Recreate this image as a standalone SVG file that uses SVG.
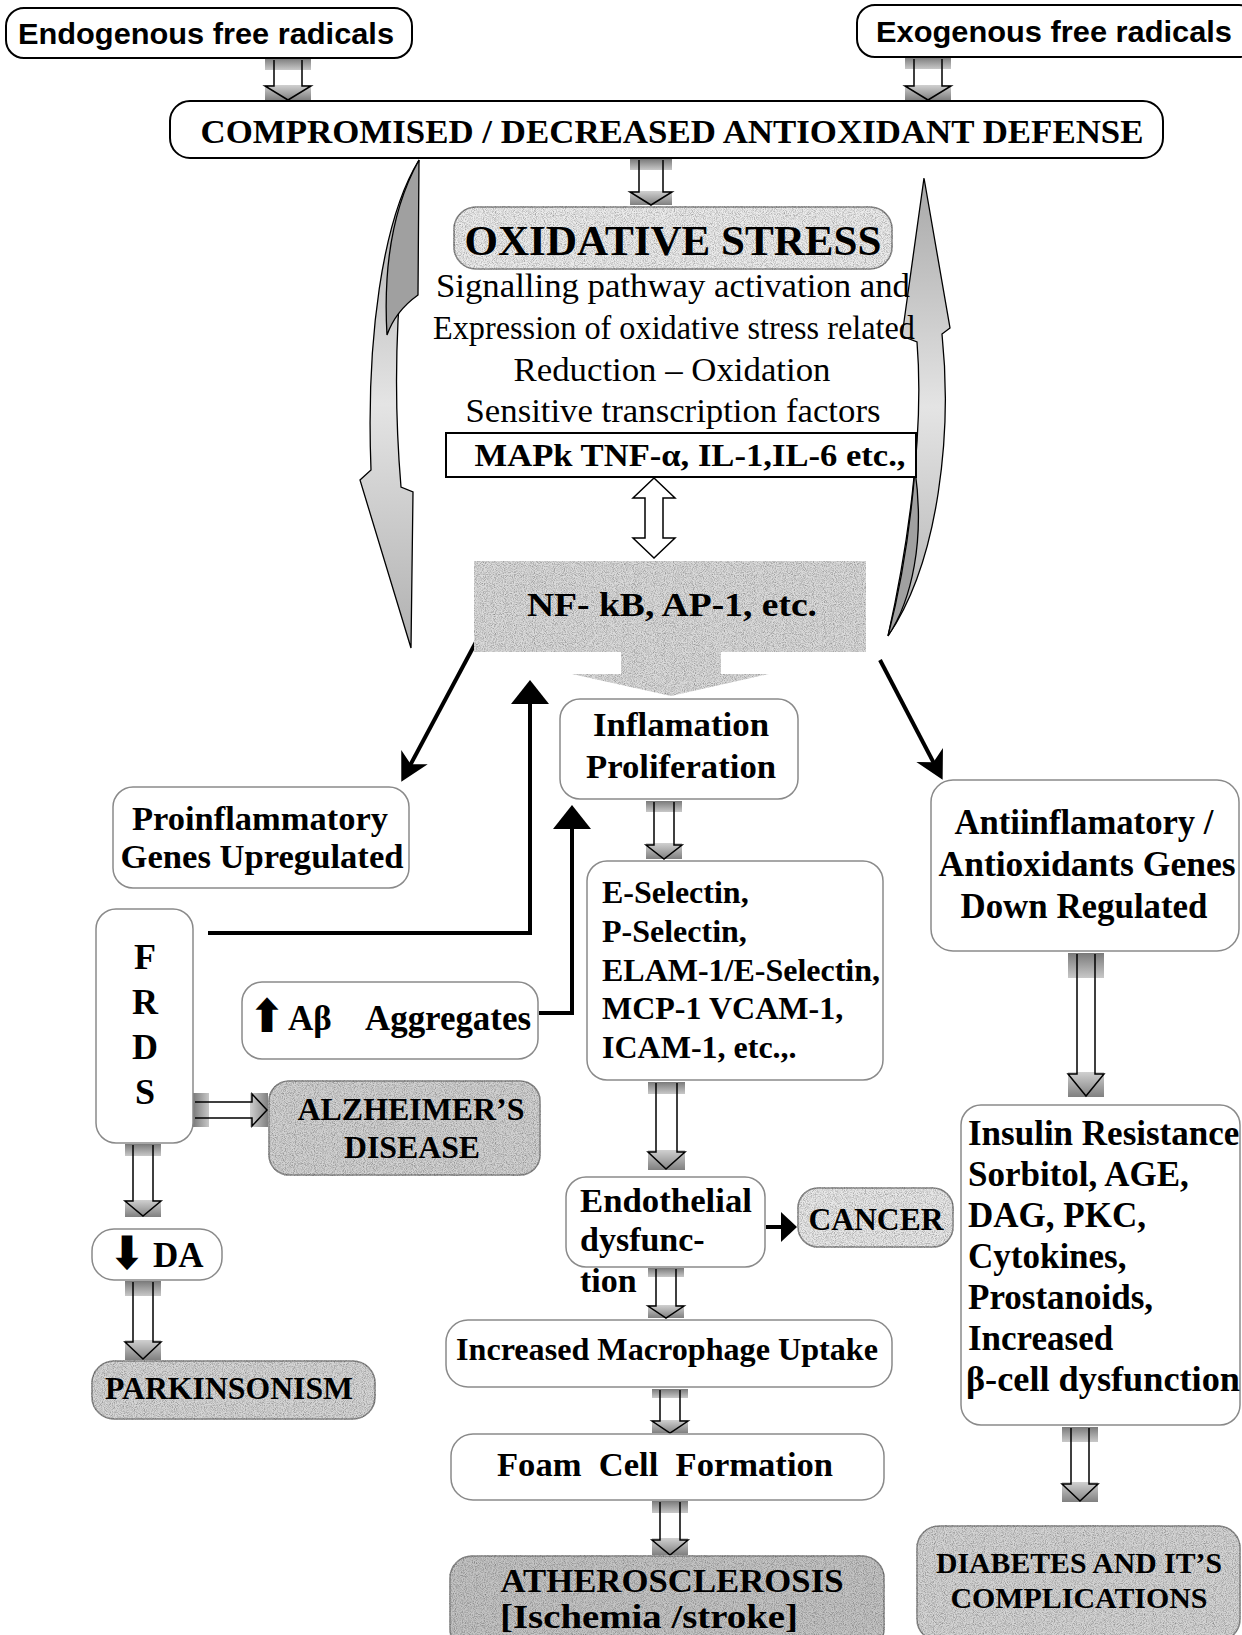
<svg xmlns="http://www.w3.org/2000/svg" width="1242" height="1635" viewBox="0 0 1242 1635">
<style>
.sb{font-family:"Liberation Serif","Times New Roman",serif;font-weight:bold;fill:#000}
.sr{font-family:"Liberation Serif","Times New Roman",serif;fill:#000}
.ss{font-family:"Liberation Sans",Arial,sans-serif;font-weight:bold;fill:#000}
.sym{font-family:"DejaVu Sans",sans-serif;font-weight:bold;fill:#000}
.bk{fill:#fff;stroke:#000;stroke-width:2}
.bx{fill:#fff;stroke:#8a8a8a;stroke-width:1.5}
.gy{stroke:#8a8a8a;stroke-width:1.5;filter:url(#stip)}
.ba{fill:none;stroke:#000;stroke-width:1.5;stroke-linejoin:miter}
.ln{fill:none;stroke:#000;stroke-width:4}
.mid{text-anchor:middle}
</style>
<defs>
<filter id="stip">
<feTurbulence type="fractalNoise" baseFrequency="1.1" numOctaves="1" seed="4" result="n"/>
<feColorMatrix in="n" type="matrix" values="0 0 0 0 0  0 0 0 0 0  0 0 0 0 0  1.4 0 0 0 -0.55" result="d"/>
<feComposite in="d" in2="SourceGraphic" operator="in" result="dm"/>
<feMerge><feMergeNode in="SourceGraphic"/><feMergeNode in="dm"/></feMerge>
</filter>
<linearGradient id="gTop" x1="0" y1="0" x2="0" y2="1"><stop offset="0" stop-color="#7a7a7a"/><stop offset="1" stop-color="#c8c8c8"/></linearGradient>
<linearGradient id="gBot" x1="0" y1="0" x2="0" y2="1"><stop offset="0" stop-color="#d0d0d0"/><stop offset="1" stop-color="#808080"/></linearGradient>
<linearGradient id="gLeft" x1="0" y1="0" x2="1" y2="0"><stop offset="0" stop-color="#7a7a7a"/><stop offset="1" stop-color="#c8c8c8"/></linearGradient>
<linearGradient id="gRight" x1="0" y1="0" x2="1" y2="0"><stop offset="0" stop-color="#d0d0d0"/><stop offset="1" stop-color="#808080"/></linearGradient>
<linearGradient id="gCurve" x1="0" y1="0" x2="0" y2="1"><stop offset="0" stop-color="#a8a8a8"/><stop offset="0.5" stop-color="#e4e4e4"/><stop offset="1" stop-color="#b0b0b0"/></linearGradient>
<marker id="mTri" markerUnits="userSpaceOnUse" viewBox="-20 -20 40 40" markerWidth="40" markerHeight="40" refX="0" refY="0" orient="auto" overflow="visible">
<path d="M12,0 L-12,-19 L-12,19 Z" fill="#000"/>
</marker>
<marker id="mSt" markerUnits="userSpaceOnUse" viewBox="-20 -20 40 40" markerWidth="40" markerHeight="40" refX="0" refY="0" orient="auto" overflow="visible">
<path d="M10,0 L-18,-15 L-10,0 L-18,15 Z" fill="#000"/>
</marker>
</defs>
<rect width="1242" height="1635" fill="#fff"/>

<g id="connectors">
  <g id="curve-left">
    <path d="M419,160 C382,220 366,340 371,470 L360,480 L411,648 L413,492 L401,487 C392,380 396,260 419,160 Z" fill="url(#gCurve)" stroke="#000" stroke-width="1.3"/>
    <path d="M419,160 L418,295 C404,305 393,318 387,335 C383,265 394,205 419,160 Z" fill="#a0a0a0" stroke="#000" stroke-width="1.3"/>
  </g>
  <g id="curve-right">
    <path d="M924,178 L950,328 L942,334 C952,430 940,560 888,636 C905,560 925,440 917,342 L902,336 Z" fill="url(#gCurve)" stroke="#000" stroke-width="1.3"/>
    <path d="M888,636 C900,590 910,530 915,470 C925,540 912,600 888,636 Z" fill="#a0a0a0" stroke="#000" stroke-width="1.3"/>
  </g>

  <g id="arr-endo">
    <rect x="265" y="58" width="46" height="12" fill="url(#gTop)"/>
    <rect x="265" y="85" width="46" height="15" fill="url(#gBot)"/>
    <path class="ba" d="M274,60 V86 H265 L288,100 L311,86 H302 V60"/>
  </g>
  <g id="arr-exo">
    <rect x="905" y="57" width="46" height="12" fill="url(#gTop)"/>
    <rect x="905" y="85" width="46" height="15" fill="url(#gBot)"/>
    <path class="ba" d="M914,59 V86 H905 L928,100 L951,86 H942 V59"/>
  </g>
  <g id="arr-comp">
    <rect x="630" y="159" width="42" height="11" fill="url(#gTop)"/>
    <rect x="630" y="191" width="42" height="14" fill="url(#gBot)"/>
    <path class="ba" d="M639,160 V192 H630 L651,205 L672,192 H663 V160"/>
  </g>
  <path id="arr-dbl" d="M654,478 L675,498 L663,498 L663,538 L675,538 L654,558 L633,538 L645,538 L645,498 L633,498 Z" fill="#fff" stroke="#000" stroke-width="1.5"/>
  <path id="arr-nf" d="M621,651 H721 V674 H769 L671,696 L572,674 H621 Z" fill="#dadada" style="filter:url(#stip)"/>

  <path class="ln" d="M476,642 L406,773" marker-end="url(#mSt)"/>
  <path class="ln" d="M880,660 L938,771" marker-end="url(#mSt)"/>
  <path class="ln" d="M208,933 H530 V692" marker-end="url(#mTri)"/>
  <path class="ln" d="M539,1013 H572 V817" marker-end="url(#mTri)"/>
  <g id="arr-cancer">
    <path d="M766,1227 H784" stroke="#000" stroke-width="4"/>
    <path d="M781,1212 L797,1227 L781,1242 Z" fill="#000"/>
  </g>

  <g id="arr-infl-esel">
    <rect x="646" y="801" width="36" height="11" fill="url(#gTop)"/>
    <rect x="646" y="843" width="36" height="16" fill="url(#gBot)"/>
    <path class="ba" d="M654,802 V845 H646 L664,859 L682,845 H674 V802"/>
  </g>
  <g id="arr-esel-endo">
    <rect x="648" y="1082" width="37" height="12" fill="url(#gTop)"/>
    <rect x="648" y="1150" width="37" height="20" fill="url(#gBot)"/>
    <path class="ba" d="M656,1083 V1152 H648 L666,1169 L685,1152 H677 V1083"/>
  </g>
  <g id="arr-endo-macro">
    <rect x="648" y="1268" width="36" height="9" fill="url(#gTop)"/>
    <rect x="648" y="1305" width="36" height="13" fill="url(#gBot)"/>
    <path class="ba" d="M656,1269 V1306 H648 L666,1318 L684,1306 H676 V1269"/>
  </g>
  <g id="arr-macro-foam">
    <rect x="652" y="1389" width="36" height="9" fill="url(#gTop)"/>
    <rect x="652" y="1420" width="36" height="13" fill="url(#gBot)"/>
    <path class="ba" d="M660,1390 V1421 H652 L670,1433 L688,1421 H680 V1390"/>
  </g>
  <g id="arr-foam-ath">
    <rect x="652" y="1501" width="36" height="12" fill="url(#gTop)"/>
    <rect x="652" y="1538" width="36" height="17" fill="url(#gBot)"/>
    <path class="ba" d="M660,1502 V1540 H652 L670,1555 L688,1540 H680 V1502"/>
  </g>
  <g id="arr-frds-alz">
    <rect x="193" y="1093" width="16" height="34" fill="url(#gLeft)"/>
    <rect x="250" y="1093" width="18" height="34" fill="url(#gRight)"/>
    <path class="ba" d="M195,1102 H252 V1094 L267,1110 L252,1126 V1118 H195"/>
  </g>
  <g id="arr-frds-da">
    <rect x="125" y="1144" width="36" height="12" fill="url(#gTop)"/>
    <rect x="125" y="1200" width="36" height="17" fill="url(#gBot)"/>
    <path class="ba" d="M133,1145 V1201 H125 L143,1216 L161,1201 H153 V1145"/>
  </g>
  <g id="arr-da-park">
    <rect x="125" y="1281" width="36" height="15" fill="url(#gTop)"/>
    <rect x="125" y="1340" width="36" height="20" fill="url(#gBot)"/>
    <path class="ba" d="M133,1282 V1342 H125 L143,1359 L161,1342 H153 V1282"/>
  </g>
  <g id="arr-anti-ins">
    <rect x="1068" y="953" width="36" height="25" fill="url(#gTop)"/>
    <rect x="1068" y="1072" width="36" height="25" fill="url(#gBot)"/>
    <path class="ba" d="M1077,954 V1074 H1068 L1086,1096 L1104,1074 H1095 V954"/>
  </g>
  <g id="arr-ins-diab">
    <rect x="1062" y="1427" width="36" height="15" fill="url(#gTop)"/>
    <rect x="1062" y="1482" width="36" height="20" fill="url(#gBot)"/>
    <path class="ba" d="M1071,1428 V1484 H1062 L1080,1501 L1098,1484 H1089 V1428"/>
  </g>
</g>

<g id="n-endo">
  <rect class="bk" x="6" y="8" width="406" height="50" rx="18"/>
  <text class="ss mid" x="206" y="44" font-size="30" textLength="376" lengthAdjust="spacingAndGlyphs">Endogenous free radicals</text>
</g>
<g id="n-exo">
  <rect class="bk" x="857" y="5" width="400" height="52" rx="18"/>
  <text class="ss" x="876" y="42" font-size="30" textLength="356" lengthAdjust="spacingAndGlyphs">Exogenous free radicals</text>
</g>
<g id="n-comp">
  <rect class="bk" x="170" y="101" width="993" height="57" rx="20"/>
  <text class="sb mid" x="672" y="143" font-size="34" textLength="943" lengthAdjust="spacingAndGlyphs">COMPROMISED / DECREASED ANTIOXIDANT DEFENSE</text>
</g>
<g id="n-ox">
  <rect class="gy" x="454" y="207" width="438" height="62" rx="22" fill="#ececec"/>
  <text class="sb mid" x="673" y="255" font-size="43" textLength="417" lengthAdjust="spacingAndGlyphs">OXIDATIVE STRESS</text>
</g>
<g id="n-ox-desc">
  <text class="sr mid" x="673" y="297" font-size="33" textLength="474" lengthAdjust="spacingAndGlyphs">Signalling pathway activation and</text>
  <text class="sr mid" x="674" y="339" font-size="33" textLength="482" lengthAdjust="spacingAndGlyphs">Expression of oxidative stress related</text>
  <text class="sr mid" x="672" y="381" font-size="33" textLength="317" lengthAdjust="spacingAndGlyphs">Reduction – Oxidation</text>
  <text class="sr mid" x="673" y="422" font-size="33" textLength="415" lengthAdjust="spacingAndGlyphs">Sensitive transcription factors</text>
</g>
<g id="n-mapk">
  <rect class="bk" x="446" y="433" width="470" height="44"/>
  <text class="sb mid" x="690" y="466" font-size="31" textLength="431" lengthAdjust="spacingAndGlyphs">MAPk TNF-α, IL-1,IL-6 etc.,</text>
</g>
<g id="n-nfkb">
  <rect x="474" y="561" width="392" height="91" fill="#dadada" style="filter:url(#stip)"/>
  <text class="sb mid" x="672" y="616" font-size="34" textLength="290" lengthAdjust="spacingAndGlyphs">NF- kB, AP-1, etc.</text>
</g>
<g id="n-infl">
  <rect class="bx" x="560" y="699" width="238" height="100" rx="20" fill="#f8f8f8"/>
  <text class="sb mid" x="681" y="736" font-size="33" textLength="176" lengthAdjust="spacingAndGlyphs">Inflamation</text>
  <text class="sb mid" x="681" y="778" font-size="33" textLength="190" lengthAdjust="spacingAndGlyphs">Proliferation</text>
</g>
<g id="n-pro">
  <rect class="bx" x="113" y="787" width="296" height="101" rx="20"/>
  <text class="sb mid" x="260" y="830" font-size="34" textLength="256" lengthAdjust="spacingAndGlyphs">Proinflammatory</text>
  <text class="sb mid" x="262" y="868" font-size="34" textLength="283" lengthAdjust="spacingAndGlyphs">Genes Upregulated</text>
</g>
<g id="n-anti">
  <rect class="bx" x="931" y="780" width="308" height="171" rx="22"/>
  <text class="sb mid" x="1084" y="834" font-size="35" textLength="259" lengthAdjust="spacingAndGlyphs">Antiinflamatory /</text>
  <text class="sb mid" x="1087" y="876" font-size="35" textLength="297" lengthAdjust="spacingAndGlyphs">Antioxidants Genes</text>
  <text class="sb mid" x="1084" y="918" font-size="35" textLength="247" lengthAdjust="spacingAndGlyphs">Down Regulated</text>
</g>
<g id="n-frds">
  <rect class="bx" x="96" y="909" width="97" height="234" rx="20"/>
  <text class="sb mid" x="145" y="969" font-size="36">F</text>
  <text class="sb mid" x="145" y="1014" font-size="36">R</text>
  <text class="sb mid" x="145" y="1059" font-size="36">D</text>
  <text class="sb mid" x="145" y="1104" font-size="36">S</text>
</g>
<g id="n-ab">
  <rect class="bx" x="242" y="982" width="296" height="77" rx="20"/>
  <text class="sym" x="249" y="1032" font-size="46" textLength="36" lengthAdjust="spacingAndGlyphs">⬆</text>
  <text class="sb" x="288" y="1030" font-size="35">Aβ</text>
  <text class="sb" x="365" y="1030" font-size="35" textLength="166" lengthAdjust="spacingAndGlyphs">Aggregates</text>
</g>
<g id="n-alz">
  <rect class="gy" x="269" y="1081" width="271" height="94" rx="20" fill="#d2d2d2"/>
  <text class="sb mid" x="411" y="1120" font-size="32" textLength="227" lengthAdjust="spacingAndGlyphs">ALZHEIMER’S</text>
  <text class="sb mid" x="412" y="1158" font-size="32" textLength="136" lengthAdjust="spacingAndGlyphs">DISEASE</text>
</g>
<g id="n-da">
  <rect class="bx" x="92" y="1229" width="130" height="51" rx="22"/>
  <text class="sym" x="109" y="1269" font-size="46" textLength="36" lengthAdjust="spacingAndGlyphs">⬇</text>
  <text class="sb" x="153" y="1267" font-size="35">DA</text>
</g>
<g id="n-park">
  <rect class="gy" x="92" y="1361" width="283" height="58" rx="22" fill="#d6d6d6"/>
  <text class="sb mid" x="229" y="1399" font-size="31" textLength="248" lengthAdjust="spacingAndGlyphs">PARKINSONISM</text>
</g>
<g id="n-esel">
  <rect class="bx" x="587" y="861" width="296" height="219" rx="20"/>
  <text class="sb" x="602" y="903" font-size="32">E-Selectin,</text>
  <text class="sb" x="602" y="942" font-size="32">P-Selectin,</text>
  <text class="sb" x="602" y="981" font-size="32" textLength="278" lengthAdjust="spacingAndGlyphs">ELAM-1/E-Selectin,</text>
  <text class="sb" x="602" y="1019" font-size="32">MCP-1 VCAM-1,</text>
  <text class="sb" x="602" y="1058" font-size="32">ICAM-1, etc.,.</text>
</g>
<g id="n-endoth">
  <rect class="bx" x="566" y="1177" width="199" height="90" rx="20"/>
  <text class="sb" x="580" y="1212" font-size="34" textLength="172" lengthAdjust="spacingAndGlyphs">Endothelial</text>
  <text class="sb" x="580" y="1251" font-size="34">dysfunc-</text>
  <text class="sb" x="580" y="1292" font-size="34">tion</text>
</g>
<g id="n-cancer">
  <rect class="gy" x="798" y="1188" width="155" height="59" rx="20" fill="#e8e8e8"/>
  <text class="sb mid" x="876" y="1230" font-size="32" textLength="135" lengthAdjust="spacingAndGlyphs">CANCER</text>
</g>
<g id="n-macro">
  <rect class="bx" x="446" y="1320" width="446" height="67" rx="22"/>
  <text class="sb mid" x="667" y="1360" font-size="32" textLength="422" lengthAdjust="spacingAndGlyphs">Increased Macrophage Uptake</text>
</g>
<g id="n-foam">
  <rect class="bx" x="451" y="1434" width="433" height="66" rx="22"/>
  <text class="sb mid" x="665" y="1476" font-size="34" textLength="336" lengthAdjust="spacingAndGlyphs" xml:space="preserve">Foam  Cell  Formation</text>
</g>
<g id="n-ath">
  <rect class="gy" x="450" y="1556" width="434" height="95" rx="22" fill="#c4c4c4"/>
  <text class="sb mid" x="672" y="1592" font-size="34" textLength="343" lengthAdjust="spacingAndGlyphs">ATHEROSCLEROSIS</text>
  <text class="sb mid" x="649" y="1628" font-size="33" textLength="298" lengthAdjust="spacingAndGlyphs">[Ischemia /stroke]</text>
</g>
<g id="n-ins">
  <rect class="bx" x="961" y="1105" width="279" height="320" rx="20"/>
  <text class="sb" x="968" y="1145" font-size="35">Insulin Resistance</text>
  <text class="sb" x="968" y="1186" font-size="35">Sorbitol, AGE,</text>
  <text class="sb" x="968" y="1227" font-size="35">DAG, PKC,</text>
  <text class="sb" x="968" y="1268" font-size="35">Cytokines,</text>
  <text class="sb" x="968" y="1309" font-size="35">Prostanoids,</text>
  <text class="sb" x="968" y="1350" font-size="35">Increased</text>
  <text class="sb" x="966" y="1391" font-size="35" textLength="274" lengthAdjust="spacingAndGlyphs">β-cell dysfunction</text>
</g>
<g id="n-diab">
  <rect class="gy" x="917" y="1526" width="323" height="115" rx="22" fill="#d4d4d4"/>
  <text class="sb mid" x="1079" y="1573" font-size="29" textLength="286" lengthAdjust="spacingAndGlyphs">DIABETES AND IT’S</text>
  <text class="sb mid" x="1079" y="1608" font-size="29" textLength="257" lengthAdjust="spacingAndGlyphs">COMPLICATIONS</text>
</g>
</svg>
